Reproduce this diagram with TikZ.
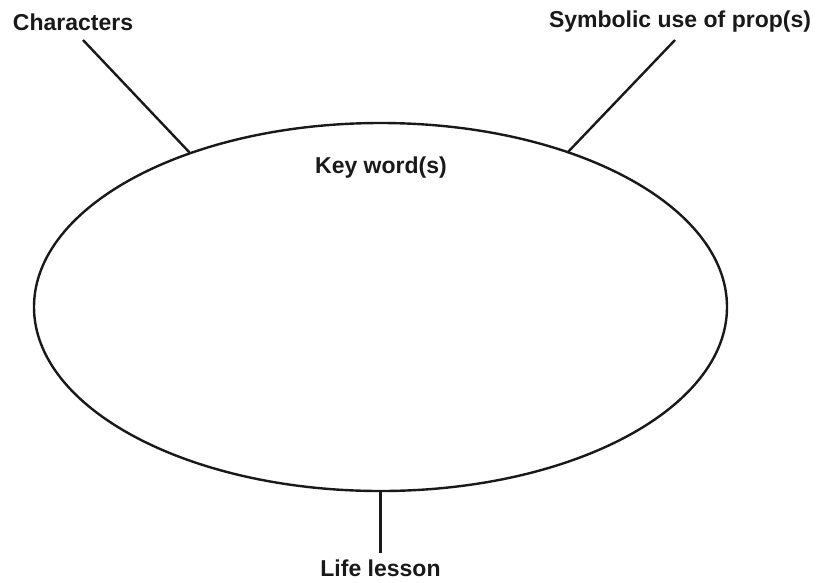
\documentclass[tikz,border=0pt]{standalone}
\usepackage{fontspec}
\setmainfont{Liberation Sans}
\usetikzlibrary{shapes.geometric}
\begin{document}
\begin{tikzpicture}[x=1pt,y=-1pt,
  lbl/.style={font=\fontsize{23}{27}\selectfont\bfseries, inner sep=0pt, text=black!90},
  ln/.style={line width=2.4pt, draw=black!90}]
\useasboundingbox (0,0) rectangle (818,582);
\draw[ln] (380.5,307) ellipse [x radius=346.5, y radius=184];
\node[lbl] (chars) at (73,22) {Characters};
\node[lbl] (symb) at (680,22) {Symbolic use of prop(s)};
\node[lbl] (key) at (381,168) {Key word(s)};
\node[lbl] (life) at (380.5,568) {Life lesson};
\coordinate (c1) at (83,40);
\coordinate (c2) at (190,153);
\coordinate (s1) at (675,40);
\coordinate (s2) at (568,152);
\coordinate (l1) at (380.5,491);
\coordinate (l2) at (380.5,553);
\draw[ln] (c1) -- (c2);
\draw[ln] (s1) -- (s2);
\draw[ln] (l1) -- (l2);
\end{tikzpicture}
\end{document}
